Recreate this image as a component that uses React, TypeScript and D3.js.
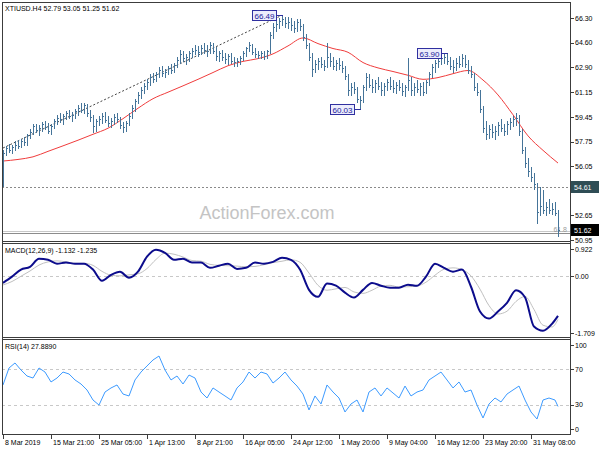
import React from 'react';
import * as d3 from 'd3';

// ---------- DATA ----------
const highs = [
  57.20,57.45,57.60,57.55,57.80,57.85,57.95,58.10,58.30,58.60,
  58.95,59.00,58.90,59.10,59.20,59.05,58.95,59.35,59.60,59.70,
  59.65,59.90,59.95,59.80,60.00,60.30,60.40,60.45,60.35,59.95,
  59.60,59.30,59.55,59.70,59.80,59.50,59.40,59.65,59.75,59.45,
  59.10,59.20,59.70,60.30,60.70,61.20,61.50,61.80,62.10,62.40,
  62.50,62.60,62.90,62.95,62.80,63.00,63.10,63.20,63.60,64.10,
  64.00,63.80,64.00,64.25,64.40,64.35,64.45,64.55,64.40,64.65,
  64.60,64.30,64.00,64.10,63.90,63.80,63.90,63.60,63.55,63.70,
  64.00,64.30,64.65,64.50,64.20,64.00,64.05,64.00,64.10,65.30,
  65.95,66.20,66.30,66.49,66.40,66.35,66.30,66.10,66.20,66.25,
  65.90,65.20,64.60,63.90,63.40,63.50,63.60,63.40,64.60,63.90,
  63.60,63.40,63.50,63.30,63.00,62.40,61.80,61.90,61.50,60.90,
  61.70,62.50,62.40,62.10,62.00,62.20,61.90,61.80,62.10,62.20,
  62.00,61.90,62.00,61.80,61.70,63.50,62.20,61.80,62.00,61.80,
  61.90,62.00,62.60,63.10,63.40,63.60,63.80,63.85,63.90,63.60,
  63.40,63.50,63.70,63.80,63.75,63.40,63.00,62.50,61.80,61.30,
  60.20,59.20,58.90,59.00,58.80,59.10,59.30,59.00,59.20,59.40,
  59.50,59.70,59.60,58.60,57.40,56.60,56.00,55.60,54.90,54.60,
  54.40,53.60,53.80,53.50,53.60,53.05,
];
const lows = [
  54.70,56.80,57.05,56.95,57.20,57.30,57.35,57.50,57.55,58.00,
  58.30,58.40,58.20,58.50,58.60,58.35,58.30,58.70,59.00,59.10,
  59.00,59.30,59.40,59.15,59.40,59.60,59.80,59.70,59.50,59.20,
  58.40,58.50,58.90,59.05,59.10,58.80,58.75,59.00,59.10,58.70,
  58.45,58.50,58.90,59.40,59.90,60.40,60.80,61.10,61.40,61.70,
  61.90,61.95,62.20,62.30,62.20,62.40,62.50,62.55,62.90,63.20,
  63.30,63.10,63.35,63.60,63.80,63.70,63.80,63.90,63.70,63.85,
  63.90,63.40,63.35,63.40,63.20,63.10,63.20,63.00,62.95,63.10,
  63.40,63.70,64.00,63.80,63.60,63.50,63.55,63.45,63.55,63.90,
  64.90,65.40,65.60,65.80,65.70,65.60,65.50,65.30,65.40,65.50,
  64.80,64.20,63.40,62.30,62.60,62.80,62.90,62.70,62.90,63.00,
  62.80,62.70,62.80,62.60,62.10,61.00,61.00,61.10,60.50,60.03,
  60.50,61.30,61.50,61.20,61.20,61.40,61.00,61.00,61.30,61.40,
  61.20,61.10,61.30,61.00,60.90,61.30,61.00,61.00,61.20,61.00,
  60.95,61.10,61.70,62.20,62.60,62.90,63.10,63.20,63.10,62.80,
  62.60,62.70,62.90,63.00,62.90,62.50,62.20,61.30,61.00,59.80,
  58.40,57.90,58.00,58.10,57.90,58.20,58.50,58.20,58.30,58.60,
  58.80,58.90,58.20,57.00,56.00,55.40,55.00,54.50,52.12,52.70,
  52.80,52.70,52.80,52.75,52.70,51.25,
];
const closes = [
  57.00,57.30,57.20,57.40,57.55,57.45,57.80,57.70,58.20,58.45,
  58.80,58.55,58.70,58.95,58.75,58.50,58.85,59.20,59.40,59.30,
  59.55,59.75,59.50,59.60,59.85,60.10,59.95,60.25,59.70,59.45,
  58.80,59.15,59.30,59.50,59.25,59.05,59.20,59.45,59.30,58.90,
  58.75,59.05,59.55,60.10,60.55,61.00,61.30,61.60,61.90,62.20,
  62.10,62.40,62.70,62.50,62.60,62.85,62.70,63.05,63.40,63.80,
  63.50,63.60,63.85,64.05,64.10,63.95,64.25,64.10,64.00,64.40,
  64.05,63.70,63.85,63.60,63.45,63.65,63.35,63.25,63.30,63.55,
  63.90,64.20,64.40,63.95,63.80,63.75,63.90,63.70,64.00,65.10,
  65.70,65.90,66.10,66.20,65.95,66.05,65.80,65.60,66.00,65.75,
  65.00,64.40,63.60,62.80,63.10,63.30,63.15,63.00,63.60,63.30,
  63.00,63.20,63.05,62.85,62.30,61.30,61.55,61.40,60.70,60.60,
  61.50,62.20,61.70,61.50,61.80,61.60,61.30,61.60,61.85,61.60,
  61.45,61.70,61.50,61.25,61.50,62.00,61.30,61.55,61.40,61.60,
  61.20,61.85,62.40,62.90,63.20,63.35,63.50,63.60,63.30,63.00,
  62.90,63.20,63.10,63.50,63.10,62.70,62.40,61.50,61.20,60.00,
  58.70,58.30,58.60,58.40,58.50,58.90,58.70,58.50,59.00,59.10,
  59.30,59.40,58.50,57.20,56.30,55.70,55.30,54.80,52.90,53.30,
  53.00,53.20,53.00,53.10,52.79,51.62,
];

// moving average, one value every MA_STEP bars
const MA_STEP = 5;
const maValues = [
  56.41,56.52,56.70,57.08,57.46,57.85,58.26,58.68,59.34,60.06,
  60.72,61.17,61.61,62.06,62.53,63.00,63.30,63.49,63.82,64.37,
  64.92,64.53,64.19,63.93,63.22,62.85,62.60,62.34,62.06,62.18,
  62.45,62.67,62.01,60.98,59.61,58.15,57.15,56.27,
];

// MACD(12,26,9), one value every MACD_STEP bars
const MACD_STEP = 3;
const macdMain = [
  -0.19,-0.01,0.19,0.27,0.50,0.47,0.36,0.39,0.36,0.36,
  0.19,-0.13,0.04,0.13,-0.04,0.13,0.56,0.76,0.67,0.47,
  0.50,0.39,0.39,0.24,0.30,0.36,0.21,0.24,0.39,0.36,
  0.41,0.53,0.47,0.19,-0.39,-0.59,-0.21,-0.27,-0.47,-0.61,
  -0.39,-0.19,-0.27,-0.33,-0.33,-0.24,-0.27,-0.01,0.36,0.24,
  0.13,0.19,-0.30,-1.01,-1.21,-1.01,-0.76,-0.40,-0.60,-1.44,
  -1.56,-1.36,-1.132,
];
const macdSignal = [
  -0.25,-0.15,0.00,0.15,0.32,0.41,0.44,0.41,0.37,0.37,
  0.31,0.14,0.03,0.01,0.04,0.07,0.22,0.48,0.66,0.63,
  0.55,0.45,0.43,0.34,0.31,0.30,0.29,0.27,0.28,0.33,
  0.39,0.43,0.47,0.40,0.09,-0.26,-0.40,-0.36,-0.32,-0.45,
  -0.49,-0.40,-0.28,-0.26,-0.31,-0.30,-0.28,-0.17,0.03,0.20,
  0.24,0.19,0.01,-0.37,-0.84,-1.08,-1.00,-0.72,-0.58,-0.95,
  -1.40,-1.45,-1.235,
];

// RSI(14), one value every RSI_STEP bars
const RSI_STEP = 2;
const rsiValues = [
  52.3,71.6,77.3,69.3,62.5,60.2,71.6,67.0,55.7,60.2,
  67.0,64.8,58.0,53.4,46.6,35.2,29.5,44.3,48.9,52.3,
  42.0,39.8,58.0,67.0,73.9,80.7,85.2,69.3,58.0,62.5,
  53.4,63.6,60.2,44.3,37.5,48.9,44.3,39.8,35.2,48.9,
  55.7,67.0,60.2,67.0,64.8,54.5,60.2,67.0,58.0,51.1,
  42.0,23.9,39.8,30.7,52.3,44.3,37.5,21.6,30.7,35.2,
  21.6,44.3,48.9,39.8,48.9,43.2,37.5,51.1,39.8,44.3,
  46.6,58.0,62.5,67.0,58.0,48.9,55.7,44.3,46.6,29.5,
  14.8,30.7,37.5,33.0,42.0,46.6,51.1,35.2,21.6,13.6,
  35.2,37.5,35.2,27.889,
];

const priceTicks = [66.30, 64.60, 62.90, 61.15, 59.45, 57.75, 56.05, 54.35, 52.65, 50.95];
const xTickIndex = [0, 16, 32, 48, 64, 80, 96, 112, 128, 144, 160, 176];
const xTickLabels = ['8 Mar 2019', '15 Mar 21:00', '25 Mar 05:00', '1 Apr 13:00', '8 Apr 21:00',
  '16 Apr 05:00', '24 Apr 12:00', '1 May 20:00', '9 May 04:00', '16 May 12:00', '23 May 20:00', '31 May 08:00'];
const pivots = [
  { i: 93, price: 66.49, label: '66.49' },
  { i: 119, price: 60.03, label: '60.03' },
  { i: 148, price: 63.90, label: '63.90' },
];
const trendStart = { i: 0, price: 57.31 };
const trendEnd = { i: 93, price: 66.49 };
const hLevel = 54.61;
const fibLevel = { label: '61.8', price: 51.58 };
const fibLevel2 = 51.45;
const lastPrice = 51.62;
const macdRange = [-1.709, 0.922];
const rsiLevels = [70, 30];
const titleText = 'XTIUSD.H4  52.79 53.05 51.25 51.62';
const macdText = 'MACD(12,26,9) -1.132 -1.235';
const rsiText = 'RSI(14) 27.8890';

// ---------- LAYOUT ----------
const L = 2, R = 570;
const MAIN = { top: 2, bottom: 241 };
const MACDP = { top: 243, bottom: 337 };
const RSIP = { top: 339, bottom: 434 };
const FONT = "'Liberation Sans', Arial, sans-serif";
const FS = 7;
const BAR = '#457499';

export default function App() {
  const N = closes.length;
  const x = d3.scaleLinear().domain([0, N - 1]).range([3, 3 + 3 * (N - 1)]);
  const yP = d3.scaleLinear().domain([50.95, 66.30]).range([240, 18]);
  const yM = d3.scaleLinear().domain(macdRange).range([336, 244]);
  const yR = d3.scaleLinear().domain([0, 100]).range([431, 343]);

  const maLine = d3.line<number>()
    .x((_, k) => x(Math.min(k * MA_STEP, N - 1)))
    .y(d => yP(d))
    .curve(d3.curveMonotoneX);
  const macdLine = d3.line<number>()
    .x((_, k) => x(Math.min(k * MACD_STEP, N - 1)))
    .y(d => yM(d))
    .curve(d3.curveMonotoneX);
  const rsiLine = d3.line<number>()
    .x((_, k) => x(Math.min(k * RSI_STEP, N - 1)))
    .y(d => yR(d));

  const hline = (yy: number) => Math.round(yy) + 0.5;

  return (
    <svg width={600} height={450} style={{ position: 'fixed', left: 0, top: 0, background: '#fff' }}
      fontFamily={FONT}>
      <defs>
        <clipPath id="cMain"><rect x={L} y={MAIN.top} width={R - L} height={MAIN.bottom - MAIN.top} /></clipPath>
        <clipPath id="cMacd"><rect x={L} y={MACDP.top} width={R - L} height={MACDP.bottom - MACDP.top} /></clipPath>
        <clipPath id="cRsi"><rect x={L} y={RSIP.top} width={R - L} height={RSIP.bottom - RSIP.top} /></clipPath>
      </defs>
      <rect x={0} y={0} width={600} height={450} fill="#fff" />

      {/* watermark */}
      <text x={267} y={219} fontSize={18} fill="#c4c4c4" textAnchor="middle">ActionForex.com</text>

      {/* main panel */}
      <g clipPath="url(#cMain)">
        <line x1={L} x2={R} y1={hline(yP(hLevel))} y2={hline(yP(hLevel))} stroke="#8a8a8a" strokeDasharray="2,2" />
        <line x1={L} x2={R} y1={hline(yP(fibLevel.price))} y2={hline(yP(fibLevel.price))} stroke="#c8c8c8" />
        <line x1={L} x2={R} y1={hline(yP(fibLevel2))} y2={hline(yP(fibLevel2))} stroke="#8c8c8c" />
        <text x={567} y={yP(fibLevel.price) + 1} fontSize={FS} fill="#9a9a9a" textAnchor="end">{fibLevel.label}</text>
        <line x1={x(trendStart.i)} y1={yP(trendStart.price)} x2={x(trendEnd.i)} y2={yP(trendEnd.price)}
          stroke="#444" strokeDasharray="2,2" />
        <path d={maLine(maValues) || ''} fill="none" stroke="#f03c3c" strokeWidth={1} />
        <g stroke={BAR} shapeRendering="crispEdges">
          {closes.map((c, i) => {
            const xx = x(i) + 0.5;
            return (
              <g key={i}>
                <line x1={xx} x2={xx} y1={Math.round(yP(highs[i]))} y2={Math.round(yP(lows[i])) + 1} />
                <line x1={xx} x2={xx + 1.5} y1={hline(yP(c))} y2={hline(yP(c))} />
              </g>
            );
          })}
        </g>
        {pivots.map((p, k) => {
          const px = x(p.i);
          const py = Math.round(yP(p.price)) + 0.5;
          const bx = px - 30;
          return (
            <g key={k}>
              <line x1={bx + 24} x2={px + 1} y1={py} y2={py} stroke="#3030a0" />
              <rect x={bx + 0.5} y={py - 5} width={24} height={10} fill="#ececfc" stroke="#3030a0" />
              <text x={bx + 12.5} y={py + 3} fontSize={8} fill="#20209a" textAnchor="middle">{p.label}</text>
            </g>
          );
        })}
      </g>
      <text x={5} y={11} fontSize={FS} fill="#000">{titleText}</text>

      {/* MACD panel */}
      <g clipPath="url(#cMacd)">
        <line x1={L} x2={R} y1={hline(yM(0))} y2={hline(yM(0))} stroke="#c8c8c8" strokeDasharray="3,3" />
        <path d={macdLine(macdSignal) || ''} fill="none" stroke="#c0c0c0" strokeWidth={1} />
        <path d={macdLine(macdMain) || ''} fill="none" stroke="#0c0c8c" strokeWidth={2} />
      </g>
      <text x={5} y={253} fontSize={FS} fill="#000">{macdText}</text>

      {/* RSI panel */}
      <g clipPath="url(#cRsi)">
        {rsiLevels.map(v => (
          <line key={v} x1={L} x2={R} y1={hline(yR(v))} y2={hline(yR(v))} stroke="#c8c8c8" strokeDasharray="3,3" />
        ))}
        <path d={rsiLine(rsiValues) || ''} fill="none" stroke="#3d9bff" strokeWidth={1} />
      </g>
      <text x={5} y={349} fontSize={FS} fill="#000">{rsiText}</text>

      {/* frames */}
      <g stroke="#3c3c3c" shapeRendering="crispEdges" fill="none">
        <line x1={L + 0.5} x2={L + 0.5} y1={MAIN.top} y2={RSIP.bottom + 1} />
        <line x1={R + 0.5} x2={R + 0.5} y1={MAIN.top} y2={RSIP.bottom + 1} />
        {[MAIN.top, MAIN.bottom, MACDP.top, MACDP.bottom, RSIP.top, RSIP.bottom].map((yy, k) => (
          <line key={k} x1={L} x2={R + 1} y1={yy + 0.5} y2={yy + 0.5} />
        ))}
      </g>

      {/* price axis */}
      {priceTicks.map(t => (
        <g key={t}>
          <line x1={R} x2={R + 4} y1={hline(yP(t))} y2={hline(yP(t))} stroke="#3c3c3c" />
          <text x={R + 5} y={yP(t) + 2.5} fontSize={FS} fill="#000">{t.toFixed(2)}</text>
        </g>
      ))}
      <rect x={R + 1} y={Math.round(yP(hLevel)) - 6} width={28} height={12} fill="#2f4d55" />
      <text x={R + 4} y={yP(hLevel) + 2.5} fontSize={FS} fill="#fff">{hLevel.toFixed(2)}</text>
      <rect x={R + 1} y={Math.round(yP(lastPrice)) - 6} width={28} height={12} fill="#000" />
      <text x={R + 4} y={yP(lastPrice) + 2.5} fontSize={FS} fill="#fff">{lastPrice.toFixed(2)}</text>

      {/* macd axis */}
      {[
        { v: macdRange[1], yy: MACDP.top + 6, s: macdRange[1].toFixed(3) },
        { v: 0, yy: yM(0), s: '0.00' },
        { v: macdRange[0], yy: MACDP.bottom - 4, s: macdRange[0].toFixed(3) },
      ].map((t, k) => (
        <g key={k}>
          <line x1={R} x2={R + 4} y1={hline(t.yy)} y2={hline(t.yy)} stroke="#3c3c3c" />
          <text x={R + 5} y={t.yy + 2.5} fontSize={FS} fill="#000">{t.s}</text>
        </g>
      ))}

      {/* rsi axis */}
      {[
        { yy: RSIP.top + 6, s: '100' },
        { yy: yR(70), s: '70' },
        { yy: yR(30), s: '30' },
        { yy: RSIP.bottom - 5, s: '0' },
      ].map((t, k) => (
        <g key={k}>
          <line x1={R} x2={R + 4} y1={hline(t.yy)} y2={hline(t.yy)} stroke="#3c3c3c" />
          <text x={R + 5} y={t.yy + 2.5} fontSize={FS} fill="#000">{t.s}</text>
        </g>
      ))}

      {/* time axis */}
      {xTickIndex.map((ti, k) => (
        <g key={k}>
          <line x1={x(ti) + 0.5} x2={x(ti) + 0.5} y1={RSIP.bottom} y2={RSIP.bottom + 5} stroke="#3c3c3c" />
          <text x={x(ti) + 2} y={445} fontSize={FS} fill="#000">{xTickLabels[k]}</text>
        </g>
      ))}
    </svg>
  );
}
